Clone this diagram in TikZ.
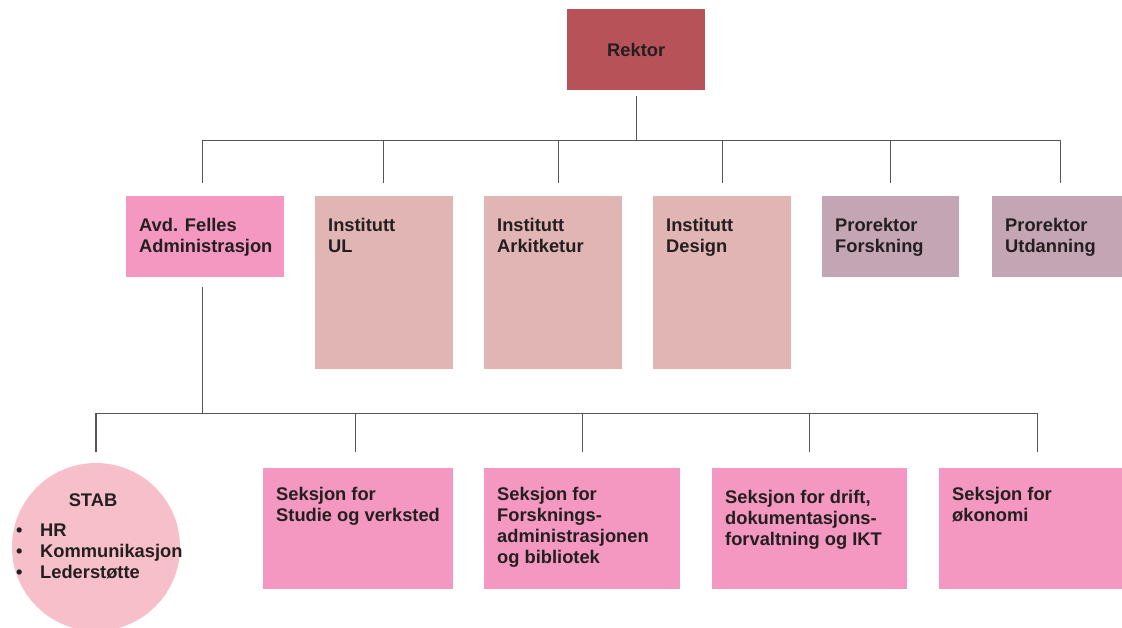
\documentclass[tikz,border=0pt]{standalone}
\usepackage{fontspec}
\setmainfont{Liberation Sans}
\usetikzlibrary{calc}
\definecolor{rekc}{HTML}{B85259}
\definecolor{pinkc}{HTML}{F497C1}
\definecolor{instc}{HTML}{E2B5B5}
\definecolor{proc}{HTML}{C4A5B4}
\definecolor{stabc}{HTML}{F7BFC9}
\definecolor{textc}{HTML}{231F20}
\definecolor{linec}{HTML}{555555}
\newcommand{\lbfont}{\fontsize{18.3}{21}\selectfont\bfseries}
\tikzset{
  box/.style={rectangle, inner sep=0pt, anchor=north west, draw=none},
  lbl/.style={anchor=north west, inner sep=0pt, align=left, font=\lbfont, text=textc},
  conn/.style={draw=linec, line width=1.1pt},
}
\begin{document}
\begin{tikzpicture}[x=1pt,y=-1pt]
\useasboundingbox (0,0) rectangle (1122,628);
\clip (0,0) rectangle (1122,628);
\fill[white] (0,0) rectangle (1122,628);

% top
\node[box, fill=rekc, minimum width=138pt, minimum height=81pt, font=\lbfont, text=textc] (rektor) at (567,9) {Rektor};

\node[box, fill=pinkc, minimum width=158pt, minimum height=81pt] (avd) at (126,196) {};
\node[lbl] (avdt) at (139,218) {Avd. Felles\\Administrasjon};
\node[box, fill=instc, minimum width=138pt, minimum height=173pt] (ul) at (315,196) {};
\node[lbl] (ult) at (328,218) {Institutt\\UL};
\node[box, fill=instc, minimum width=138pt, minimum height=173pt] (ark) at (484,196) {};
\node[lbl] (arkt) at (497,218) {Institutt\\Arkitketur};
\node[box, fill=instc, minimum width=138pt, minimum height=173pt] (des) at (653,196) {};
\node[lbl] (dest) at (666,218) {Institutt\\Design};
\node[box, fill=proc, minimum width=137pt, minimum height=81pt] (prf) at (822,196) {};
\node[lbl] (prft) at (835,218) {Prorektor\\Forskning};
\node[box, fill=proc, minimum width=140pt, minimum height=81pt] (pru) at (992,196) {};
\node[lbl] (prut) at (1005,218) {Prorektor\\Utdanning};

% bottom
\node[circle, fill=stabc, minimum size=168pt, inner sep=0pt] (stab) at (96,547) {};
\node[anchor=base, inner sep=0pt, font=\lbfont, text=textc] (stabt) at (93,506) {STAB};
\node[lbl] (stabl) at (16,524) {\makebox[24pt][l]{•}HR\\\makebox[24pt][l]{•}Kommunikasjon\\\makebox[24pt][l]{•}Lederstøtte};

\node[box, fill=pinkc, minimum width=190pt, minimum height=121pt] (s1) at (263,468) {};
\node[lbl] (s1t) at (276,487) {Seksjon for\\Studie og verksted};
\node[box, fill=pinkc, minimum width=196pt, minimum height=121pt] (s2) at (484,468) {};
\node[lbl] (s2t) at (497,487) {Seksjon for\\Forsknings-\\administrasjonen\\og bibliotek};
\node[box, fill=pinkc, minimum width=195pt, minimum height=121pt] (s3) at (712,468) {};
\node[lbl] (s3t) at (725,490) {Seksjon for drift,\\dokumentasjons-\\forvaltning og IKT};
\node[box, fill=pinkc, minimum width=196pt, minimum height=121pt] (s4) at (939,468) {};
\node[lbl] (s4t) at (952,487) {Seksjon for\\økonomi};

% drop end points
\coordinate (davd) at ($(avd.north)+(-3,-13)$);
\coordinate (dul) at ($(ul.north)+(-1,-13)$);
\coordinate (dark) at ($(ark.north)+(5,-13)$);
\coordinate (ddes) at ($(des.north)+(0,-13)$);
\coordinate (dprf) at ($(prf.north)+(0,-13)$);
\coordinate (dpru) at ($(pru.north)+(-2,-13)$);
\coordinate (dstab) at ($(stab.north)+(0,-11)$);
\coordinate (ds1) at ($(s1.north)+(-3,-16)$);
\coordinate (ds2) at ($(s2.north)+(0,-16)$);
\coordinate (ds3) at ($(s3.north)+(0,-16)$);
\coordinate (ds4) at ($(s4.north)+(0,-16)$);

% connectors top
\coordinate (b1) at ($(rektor.south)+(0,50)$);
\draw[conn] ($(rektor.south)+(0,6)$) -- (b1);
\draw[conn] (davd) |- (b1) -| (dpru);
\foreach \n in {dul,dark,ddes,dprf}
  \draw[conn] (b1 -| \n) -- (\n);

% connectors bottom
\coordinate (b2) at ($(avd.south)+(-3,136)$);
\draw[conn] ($(avd.south)+(-3,10)$) -- (b2);
\draw[conn] (dstab) |- (b2) -| (ds4);
\foreach \n in {ds1,ds2,ds3}
  \draw[conn] (b2 -| \n) -- (\n);
\end{tikzpicture}
\end{document}
